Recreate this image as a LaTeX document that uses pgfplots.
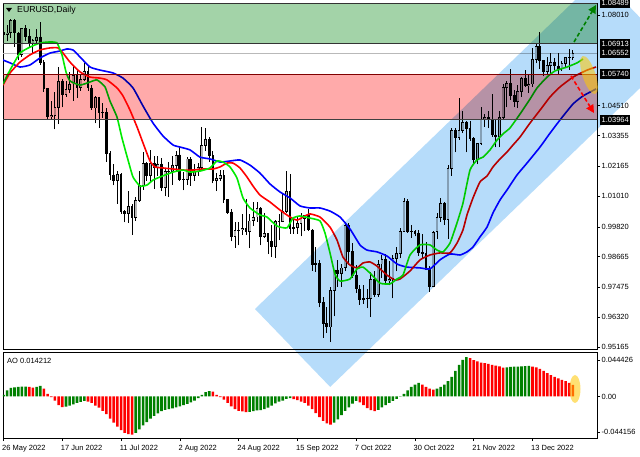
\documentclass[border=0pt]{standalone}
\usepackage{fontspec}
\setmainfont{Liberation Sans}
\usepackage{pgfplots}
\pgfplotsset{compat=1.18}
\usepackage{pgfplotstable}
\usetikzlibrary{arrows.meta}

\definecolor{zgreen}{RGB}{163,211,168}
\definecolor{zpink}{RGB}{255,170,170}
\definecolor{chan}{RGB}{182,220,250}
\definecolor{malime}{RGB}{0,235,0}
\definecolor{aogreen}{RGB}{0,128,0}
\definecolor{bullgray}{RGB}{185,185,185}
\definecolor{yel}{RGB}{255,200,0}

\newcommand{\lbl}{\fontsize{7.5bp}{8bp}\selectfont}

\pgfplotstableread{
i o h l c
0 1.0735 1.0745 1.0665 1.0725
1 1.0725 1.0765 1.0700 1.0733
2 1.0733 1.0787 1.0715 1.0780
3 1.0780 1.0786 1.0680 1.0733
4 1.0733 1.0738 1.0627 1.0648
5 1.0648 1.0753 1.0640 1.0750
6 1.0750 1.0764 1.0700 1.0718
7 1.0718 1.0750 1.0680 1.0693
8 1.0693 1.0711 1.0652 1.0704
9 1.0704 1.0748 1.0690 1.0717
10 1.0717 1.0774 1.0610 1.0618
11 1.0618 1.0630 1.0505 1.0518
12 1.0518 1.0520 1.0398 1.0408
13 1.0408 1.0470 1.0397 1.0413
14 1.0413 1.0505 1.0359 1.0445
15 1.0445 1.0601 1.0380 1.0546
16 1.0546 1.0555 1.0445 1.0496
17 1.0496 1.0545 1.0485 1.0513
18 1.0513 1.0583 1.0500 1.0535
19 1.0535 1.0605 1.0470 1.0567
20 1.0567 1.0593 1.0480 1.0522
21 1.0522 1.0570 1.0510 1.0553
22 1.0553 1.0615 1.0545 1.0583
23 1.0583 1.0606 1.0510 1.0520
24 1.0520 1.0530 1.0435 1.0442
25 1.0442 1.0487 1.0383 1.0484
26 1.0484 1.0486 1.0365 1.0425
27 1.0425 1.0463 1.0405 1.0425
28 1.0425 1.0443 1.0235 1.0265
29 1.0265 1.0275 1.0162 1.0183
30 1.0183 1.0225 1.0143 1.0160
31 1.0160 1.0200 1.0072 1.0185
32 1.0185 1.0189 1.0032 1.0040
33 1.0040 1.0048 0.9999 1.0035
34 1.0035 1.0122 0.9998 1.0061
35 1.0061 1.0072 0.9952 1.0019
36 1.0019 1.0096 1.0005 1.0085
37 1.0085 1.0200 1.0080 1.0142
38 1.0142 1.0270 1.0125 1.0226
39 1.0226 1.0235 1.0160 1.0180
40 1.0180 1.0278 1.0153 1.0229
41 1.0229 1.0255 1.0130 1.0211
42 1.0211 1.0258 1.0180 1.0225
43 1.0225 1.0248 1.0120 1.0134
44 1.0134 1.0210 1.0100 1.0197
45 1.0197 1.0235 1.0097 1.0195
46 1.0195 1.0255 1.0145 1.0221
47 1.0221 1.0274 1.0200 1.0260
48 1.0260 1.0294 1.0160 1.0164
49 1.0164 1.0194 1.0123 1.0166
50 1.0166 1.0254 1.0145 1.0245
51 1.0245 1.0253 1.0141 1.0182
52 1.0182 1.0225 1.0160 1.0196
53 1.0196 1.0230 1.0180 1.0212
54 1.0212 1.0368 1.0202 1.0298
55 1.0298 1.0363 1.0275 1.0322
56 1.0322 1.0328 1.0234 1.0258
57 1.0258 1.0276 1.0150 1.0160
58 1.0160 1.0190 1.0120 1.0170
59 1.0170 1.0203 1.0160 1.0180
60 1.0180 1.0202 1.0075 1.0088
61 1.0088 1.0090 1.0033 1.0039
62 1.0039 1.0050 0.9926 0.9943
63 0.9943 0.9999 0.9901 0.9968
64 0.9968 0.9999 0.9910 0.9970
65 0.9970 1.0032 0.9950 0.9975
66 0.9975 1.0090 0.9950 0.9965
67 0.9965 1.0030 0.9900 1.0005
68 1.0005 1.0079 0.9985 1.0020
69 1.0020 1.0080 1.0000 1.0055
70 1.0055 1.0057 0.9910 0.9945
71 0.9945 1.0035 0.9940 0.9955
72 0.9955 0.9955 0.9876 0.9925
73 0.9925 0.9990 0.9865 0.9904
74 0.9904 1.0010 0.9863 1.0003
75 1.0003 1.0030 0.9930 1.0002
76 1.0002 1.0113 1.0000 1.0040
77 1.0040 1.0198 1.0035 1.0120
78 1.0120 1.0187 0.9955 0.9975
79 0.9975 1.0020 0.9955 0.9978
80 0.9978 1.0020 0.9955 0.9995
81 0.9995 1.0037 0.9945 1.0014
82 1.0014 1.0027 0.9965 1.0025
83 1.0025 1.0050 0.9965 0.9970
84 0.9970 0.9975 0.9812 0.9837
85 0.9837 0.9905 0.9807 0.9839
86 0.9839 0.9852 0.9670 0.9690
87 0.9690 0.9710 0.9553 0.9607
88 0.9607 0.9670 0.9570 0.9594
89 0.9594 0.9750 0.9536 0.9735
90 0.9735 0.9815 0.9635 0.9815
91 0.9815 0.9853 0.9750 0.9801
92 0.9801 0.9840 0.9750 0.9823
93 0.9823 0.9999 0.9810 0.9986
94 0.9986 0.9998 0.9835 0.9885
95 0.9885 0.9920 0.9785 0.9794
96 0.9794 0.9835 0.9725 0.9741
97 0.9741 0.9755 0.9680 0.9702
98 0.9702 0.9755 0.9685 0.9705
99 0.9705 0.9743 0.9667 0.9703
100 0.9703 0.9809 0.9632 0.9780
101 0.9780 0.9810 0.9710 0.9719
102 0.9719 0.9852 0.9710 0.9838
103 0.9838 0.9873 0.9785 0.9856
104 0.9856 0.9876 0.9760 0.9774
105 0.9774 0.9848 0.9755 0.9780
106 0.9780 0.9872 0.9705 0.9860
107 0.9860 0.9905 0.9810 0.9879
108 0.9879 0.9976 0.9860 0.9965
109 0.9965 1.0094 0.9962 1.0080
110 1.0080 1.0089 0.9960 0.9964
111 0.9964 0.9990 0.9940 0.9965
112 0.9965 0.9970 0.9945 0.9955
113 0.9955 0.9968 0.9870 0.9884
114 0.9884 0.9954 0.9860 0.9878
115 0.9878 0.9925 0.9815 0.9818
116 0.9818 0.9830 0.9730 0.9750
117 0.9750 0.9967 0.9748 0.9962
118 0.9962 1.0034 0.9935 1.0017
119 1.0017 1.0095 1.0000 1.0074
120 1.0074 1.0080 0.9990 1.0011
121 1.0011 1.0222 0.9935 1.0209
122 1.0209 1.0365 1.0180 1.0356
123 1.0356 1.0365 1.0270 1.0327
124 1.0327 1.0481 1.0320 1.0354
125 1.0354 1.0430 1.0345 1.0388
126 1.0388 1.0390 1.0270 1.0363
127 1.0363 1.0392 1.0315 1.0325
128 1.0325 1.0330 1.0223 1.0243
129 1.0243 1.0307 1.0225 1.0304
130 1.0304 1.0448 1.0300 1.0399
131 1.0399 1.0420 1.0370 1.0405
132 1.0405 1.0430 1.0365 1.0399
133 1.0399 1.0497 1.0330 1.0338
134 1.0338 1.0395 1.0290 1.0330
135 1.0330 1.0430 1.0290 1.0405
136 1.0405 1.0535 1.0395 1.0522
137 1.0522 1.0545 1.0445 1.0537
138 1.0537 1.0595 1.0475 1.0491
139 1.0491 1.0513 1.0445 1.0467
140 1.0467 1.0530 1.0443 1.0507
141 1.0507 1.0564 1.0485 1.0555
142 1.0555 1.0589 1.0525 1.0530
143 1.0530 1.0570 1.0500 1.0535
144 1.0535 1.0673 1.0525 1.0630
145 1.0630 1.0695 1.0615 1.0680
146 1.0680 1.0736 1.0595 1.0625
147 1.0625 1.0630 1.0565 1.0585
148 1.0585 1.0640 1.0575 1.0606
149 1.0606 1.0656 1.0570 1.0620
150 1.0620 1.0636 1.0590 1.0605
151 1.0605 1.0657 1.0575 1.0595
152 1.0595 1.0625 1.0585 1.0615
153 1.0615 1.0640 1.0600 1.0638
154 1.0638 1.0670 1.0590 1.0637
155 1.0637 1.0665 1.0630 1.0655
}\candles

\begin{document}
\begin{tikzpicture}
\path[use as bounding box] (0bp,0bp) rectangle (640bp,457bp);
\fill[white] (0bp,0bp) rectangle (640bp,457bp);

% ---------------- main price panel ----------------
\begin{axis}[
  at={(3bp,108bp)}, anchor=south west,
  scale only axis, width=594bp, height=346bp,
  xmin=-0.14, xmax=161.55, ymin=0.95089, ymax=1.08489,
  axis line style={black, line width=0.9bp},
  xtick=\empty,
  ytick={1.0801,1.0451,1.03355,1.02165,1.0101,0.9982,0.98665,0.97475,0.9632,0.95165},
  yticklabels={1.08010,1.04510,1.03355,1.02165,1.01010,0.99820,0.98665,0.97475,0.96320,0.95165},
  scaled y ticks=false,
  ytick pos=right, yticklabel pos=right,
  tick align=outside, major tick length=3bp,
  tick style={black, line width=0.6bp},
  yticklabel style={font=\lbl, anchor=west, inner sep=1.5bp},
  /pgf/number format/assume math mode=true,
]
\draw[gray!55, line width=0.7bp] (axis cs:-0.14,1.06552) -- (axis cs:161.55,1.06552);
% wicks
\addplot[draw=none, no markers, forget plot,
  error bars/.cd, y dir=plus, y explicit, error mark=none,
  error bar style={draw=black, solid, line width=0.9bp}]
  table[x=i, y=l, y error plus expr=\thisrow{h}-\thisrow{l}] {\candles};
% bodies (outline)
\addplot[draw=none, no markers, forget plot,
  error bars/.cd, y dir=minus, y explicit, error mark=none,
  error bar style={draw=black, solid, line width=2.8bp, line cap=butt}]
  table[x=i, y expr={max(\thisrow{o},\thisrow{c})+0.00015},
        y error minus expr={abs(\thisrow{c}-\thisrow{o})+0.0003}] {\candles};
% bull bodies fill
\addplot[draw=none, no markers, forget plot,
  error bars/.cd, y dir=minus, y explicit, error mark=none,
  error bar style={draw=bullgray, solid, line width=1.7bp, line cap=butt}]
  table[x=i, y expr={\thisrow{c}-0.0002},
        y error minus expr={max(\thisrow{c}-\thisrow{o}-0.0004,0)}] {\candles};

% moving averages (Alligator)
\addplot[blue, line width=1.6bp, smooth, tension=0.3] coordinates {
(-0.14,1.0628) (1.77,1.0617) (4.49,1.0601) (7.21,1.0609) (9.93,1.0636) (12.66,1.0655) (15.38,1.0663) (17.28,1.0671) (18.92,1.0667) (20.82,1.0640) (23.54,1.0601) (26.27,1.0589) (29.80,1.0578) (32.52,1.0558) (35.25,1.0520) (37.97,1.0450) (40.69,1.0384) (43.41,1.0334) (46.14,1.0299) (48.04,1.0291) (50.76,1.0280) (53.48,1.0252) (56.20,1.0245) (58.93,1.0233) (61.65,1.0237) (64.37,1.0241) (67.09,1.0221) (69.82,1.0190) (72.54,1.0148) (75.26,1.0117) (77.98,1.0094) (80.70,1.0063) (83.42,1.0055) (86.14,1.0055) (88.87,1.0043) (91.59,1.0020) (94.31,0.9974) (97.03,0.9912) (98.94,0.9892) (101.66,0.9885) (104.38,0.9869) (107.10,0.9838) (109.83,0.9826) (113.37,0.9823) (116.09,0.9819) (118.81,0.9854) (121.53,0.9877) (124.26,0.9873) (126.16,0.9885) (127.80,0.9904) (129.70,0.9943) (131.61,0.9981) (133.24,1.0036) (135.15,1.0086) (137.06,1.0125) (139.78,1.0183) (142.50,1.0229) (146.04,1.0291) (148.77,1.0345) (151.49,1.0396) (155.03,1.0458) (157.75,1.0489) (161.29,1.0516)
};
\addplot[red, line width=1.6bp, smooth, tension=0.3] coordinates {
(-0.14,1.0531) (1.77,1.0578) (4.49,1.0620) (7.21,1.0648) (9.93,1.0667) (12.66,1.0675) (14.83,1.0675) (16.19,1.0655) (18.10,1.0620) (20.82,1.0582) (23.54,1.0562) (26.27,1.0558) (28.17,1.0551) (30.89,1.0520) (32.52,1.0489) (34.43,1.0434) (36.34,1.0369) (37.97,1.0307) (39.87,1.0237) (41.24,1.0214) (43.41,1.0210) (46.14,1.0206) (48.86,1.0202) (51.58,1.0202) (54.30,1.0206) (57.02,1.0206) (58.93,1.0214) (60.83,1.0229) (62.47,1.0229) (64.37,1.0210) (66.28,1.0175) (67.91,1.0140) (69.82,1.0105) (72.54,1.0078) (75.26,1.0047) (77.98,1.0020) (79.89,1.0008) (81.52,1.0020) (83.42,1.0032) (86.14,1.0020) (88.87,0.9981) (90.77,0.9931) (92.40,0.9865) (94.31,0.9834) (96.22,0.9823) (97.85,0.9842) (99.76,0.9846) (101.66,0.9830) (104.38,0.9795) (106.56,0.9776) (107.93,0.9780) (110.65,0.9811) (113.37,0.9854) (116.09,0.9873) (118.81,0.9881) (121.53,0.9881) (123.44,0.9919) (125.07,0.9970) (126.16,1.0028) (127.80,1.0094) (129.70,1.0156) (131.61,1.0179) (133.24,1.0214) (135.15,1.0245) (137.06,1.0272) (138.69,1.0299) (140.60,1.0330) (143.32,1.0384) (146.04,1.0434) (148.77,1.0485) (151.49,1.0524) (155.03,1.0562) (158.84,1.0589) (161.29,1.0601)
};
\addplot[malime, line width=1.6bp, smooth, tension=0.3] coordinates {
(-0.14,1.0535) (1.77,1.0589) (4.49,1.0655) (7.21,1.0678) (9.93,1.0694) (12.66,1.0698) (14.56,1.0694) (15.92,1.0648) (17.01,1.0582) (18.10,1.0547) (20.82,1.0531) (23.54,1.0543) (25.45,1.0551) (27.63,1.0524) (28.99,1.0469) (30.89,1.0407) (32.25,1.0326) (33.89,1.0241) (35.25,1.0175) (37.15,1.0140) (39.06,1.0144) (40.69,1.0163) (42.60,1.0175) (46.14,1.0194) (48.86,1.0202) (50.76,1.0194) (53.48,1.0198) (56.20,1.0210) (58.11,1.0237) (59.74,1.0233) (61.65,1.0214) (63.55,1.0171) (65.19,1.0094) (67.09,1.0055) (69.82,1.0028) (71.72,1.0020) (74.44,0.9985) (77.16,0.9978) (78.80,1.0016) (80.70,1.0024) (83.42,1.0016) (86.14,1.0005) (87.51,0.9958) (88.87,0.9881) (90.23,0.9799) (91.59,0.9772) (94.31,0.9780) (96.22,0.9819) (97.85,0.9826) (99.76,0.9803) (102.48,0.9764) (105.20,0.9761) (107.10,0.9780) (108.74,0.9795) (110.65,0.9873) (113.37,0.9912) (116.09,0.9912) (118.00,0.9892) (119.63,0.9885) (121.53,0.9919) (123.44,0.9997) (125.07,1.0074) (126.98,1.0202) (128.88,1.0241) (130.52,1.0252) (132.43,1.0280) (134.33,1.0318) (135.97,1.0342) (137.87,1.0365) (140.60,1.0419) (143.32,1.0477) (145.23,1.0520) (147.95,1.0562) (150.13,1.0586) (153.40,1.0601) (156.12,1.0617) (157.75,1.0632)
};
\end{axis}

% ---------------- AO panel ----------------
\begin{axis}[
  at={(3bp,19bp)}, anchor=south west,
  scale only axis, width=594bp, height=86bp,
  xmin=-0.14, xmax=161.55, ymin=-0.05105, ymax=0.05474,
  axis line style={black, line width=0.9bp},
  xtick={0,16,32,48,64,80,96,112,128,144},
  xticklabels={26 May 2022,17 Jun 2022,11 Jul 2022,2 Aug 2022,24 Aug 2022,15 Sep 2022,7 Oct 2022,30 Oct 2022,21 Nov 2022,13 Dec 2022},
  xtick pos=bottom,
  xticklabel style={font=\lbl, anchor=north west, inner sep=0pt, text height=5.6bp, text depth=1.6bp, xshift=-1.5bp, yshift=-3.5bp},
  ytick={0.044426,0,-0.044156},
  yticklabels={0.044426,0.00,-0.044156},
  scaled y ticks=false, scaled x ticks=false,
  ytick pos=right, yticklabel pos=right,
  tick align=outside, major tick length=3bp,
  tick style={black, line width=0.6bp},
  yticklabel style={font=\lbl, anchor=west, inner sep=1.5bp},
  /pgf/number format/assume math mode=true,
]
\addplot[ybar, bar width=2.6bp, bar shift=0pt, fill=aogreen, draw=none] coordinates {
(0,0.0021) (1,0.0075) (2,0.0105) (3,0.0113) (4,0.0117) (5,0.0121) (6,0.0123)
(9,0.0117) (10,0.0130)
(17,-0.0125) (18,-0.0113) (19,-0.0096) (20,-0.0079) (21,-0.0067) (22,-0.0054)
(36,-0.0447) (37,-0.0405) (38,-0.0355) (39,-0.0314) (40,-0.0272) (41,-0.0238) (42,-0.0209) (43,-0.0180) (44,-0.0163) (45,-0.0155) (46,-0.0146) (47,-0.0134) (48,-0.0121) (49,-0.0105) (50,-0.0092) (51,-0.0071) (52,-0.0050) (53,-0.0021) (54,0.0021) (55,0.0054) (56,0.0067)
(67,-0.0188) (68,-0.0180) (69,-0.0171) (70,-0.0167) (71,-0.0155) (72,-0.0138) (73,-0.0113) (74,-0.0084) (75,-0.0063) (76,-0.0050) (77,-0.0029) (78,-0.0021)
(90,-0.0322) (91,-0.0280) (92,-0.0230) (93,-0.0176) (94,-0.0134) (95,-0.0088) (96,-0.0054)
(102,-0.0163) (103,-0.0134) (104,-0.0105) (105,-0.0079) (106,-0.0054) (107,-0.0029) (108,0.0004) (109,0.0033) (110,0.0075) (111,0.0117) (112,0.0146) (113,0.0167)
(118,0.0096) (119,0.0117) (120,0.0146) (121,0.0188) (122,0.0242) (123,0.0314) (124,0.0389) (125,0.0451) (126,0.0485)
(137,0.0359) (138,0.0364) (139,0.0366) (140,0.0368) (141,0.0372) (142,0.0374) (143,0.0376)
};
\addplot[ybar, bar width=2.6bp, bar shift=0pt, fill=red, draw=none] coordinates {
(7,0.0117) (8,0.0109)
(11,0.0096) (12,0.0033) (13,-0.0008) (14,-0.0050) (15,-0.0105) (16,-0.0130)
(23,-0.0063) (24,-0.0079) (25,-0.0113) (26,-0.0138) (27,-0.0176) (28,-0.0217) (29,-0.0272) (30,-0.0322) (31,-0.0372) (32,-0.0414) (33,-0.0447) (34,-0.0464) (35,-0.0468)
(57,0.0059) (58,0.0021) (59,-0.0008) (60,-0.0038) (61,-0.0079) (62,-0.0121) (63,-0.0155) (64,-0.0176) (65,-0.0184) (66,-0.0192)
(79,-0.0033) (80,-0.0046) (81,-0.0063) (82,-0.0079) (83,-0.0113) (84,-0.0155) (85,-0.0205) (86,-0.0255) (87,-0.0301) (88,-0.0330) (89,-0.0347)
(97,-0.0071) (98,-0.0105) (99,-0.0142) (100,-0.0167) (101,-0.0180)
(114,0.0146) (115,0.0117) (116,0.0096) (117,0.0084)
(127,0.0472) (128,0.0447) (129,0.0431) (130,0.0418) (131,0.0410) (132,0.0401) (133,0.0389) (134,0.0380) (135,0.0372) (136,0.0355)
(144,0.0368) (145,0.0359) (146,0.0339) (147,0.0314) (148,0.0288) (149,0.0263) (150,0.0242) (151,0.0222) (152,0.0205) (153,0.0188) (154,0.0167) (155,0.0142)
};
\end{axis}

% ---------------- overlays (pixel coordinates, y down) ----------------
\begin{scope}[x=1bp, y=-1bp, yshift=457bp]
  \begin{scope}[blend mode=multiply]
    \fill[zgreen] (3,3) rectangle (597,43.7);
    \fill[zpink] (3,74) rectangle (597,119.8);
    \fill[chan] (255,309) -- (330.2,386.9) -- (675.2,54.1) -- (600,-23.9) -- cycle;
  \end{scope}
  \draw[black!80, line width=0.9bp] (3,3) -- (597,3);
  \draw[black!80, line width=0.9bp] (3,43.7) -- (597,43.7);
  \draw[red!50!black, line width=0.9bp] (3,74) -- (597,74);
  \draw[black!75, line width=0.9bp] (3,119.8) -- (597,119.8);
  % ellipses
  \fill[yel, fill opacity=0.55, rotate around={18.4:(589,75)}] (589,75) ellipse (6.5 and 20);
  \fill[yel, fill opacity=0.55] (575,389) ellipse (5.5 and 14);
  % arrows
  \draw[aogreen, line width=1.6bp, dash pattern=on 4bp off 2.5bp, -{Triangle[length=8bp,width=8bp]}] (574,42) -- (596,5);
  \draw[red, line width=1.6bp, dash pattern=on 4bp off 2.5bp, -{Triangle[length=8bp,width=8bp]}] (571,76) -- (594,113);
  % highlighted price labels
  \foreach \yy/\tt in {3/1.08489, 43.7/1.06913, 53/1.06552, 74/1.05740, 119.8/1.03964}{
    \node[fill=black, text=white, anchor=west, inner xsep=1.5bp, inner ysep=0pt,
          minimum height=9.5bp, font=\lbl] at (600,\yy) {\tt};
  }
  % titles
  \fill[black] (6,8) -- (12,8) -- (9,12) -- cycle;
  \node[anchor=west, inner sep=0pt, font=\fontsize{8.7bp}{9bp}\selectfont] at (17,10) {EURUSD,Daily};
  \node[anchor=west, inner sep=0pt, font=\lbl] at (7,361) {AO 0.014212};
\end{scope}
\end{tikzpicture}
\end{document}
